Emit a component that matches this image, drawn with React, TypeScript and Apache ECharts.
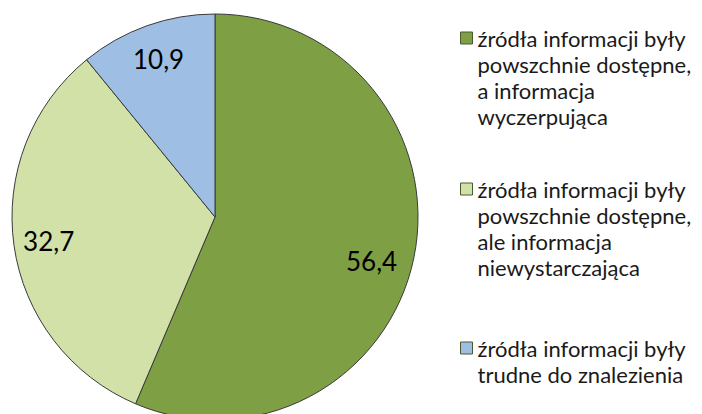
import React, { useEffect, useRef } from "react";
import * as echarts from "echarts";

const categories = [
  "źródła informacji były\npowszchnie dostępne,\na informacja\nwyczerpująca",
  "źródła informacji były\npowszchnie dostępne,\nale informacja\nniewystarczająca",
  "źródła informacji były\ntrudne do znalezienia",
];
const values = [56.4, 32.7, 10.9];
const colors = ["#7f9f45", "#d1e1a8", "#9ebee3"];
const legendLineCenters = [38, 189, 348];

const FONT = "Lato";
const LH = 26.3;

export default function App() {
  const ref = useRef<HTMLDivElement>(null);
  useEffect(() => {
    if (!ref.current) return;
    const chart = echarts.init(ref.current, null, { renderer: "svg" });
    const data = categories.map((name, i) => ({
      name,
      value: values[i],
      itemStyle: { color: colors[i] },
    }));
    const legends = categories.map((name, i) => {
      const n = name.split("\n").length;
      return {
        data: [name],
        orient: "vertical",
        left: 460,
        top: legendLineCenters[i] - ((2 * n - 1) * LH) / 2,
        padding: 0,
        icon: "rect",
        itemWidth: 12,
        itemHeight: 12,
        selectedMode: false,
        formatter: (nm: string) => "\n".repeat(n - 1) + nm,
        itemStyle: { borderColor: "#4a5a30", borderWidth: 1 },
        textStyle: { fontFamily: FONT, fontSize: 22, lineHeight: LH, color: "#1a1a1a" },
      };
    });
    chart.setOption({
      animation: false,
      legend: legends,
      series: [
        {
          type: "pie",
          center: [215, 217],
          radius: [0, 203],
          startAngle: 90,
          clockwise: true,
          data,
          label: { show: false },
          labelLine: { show: false },
          itemStyle: { borderColor: "#3a3a3a", borderWidth: 1 },
          emphasis: { disabled: true },
        },
        {
          type: "pie",
          center: [215, 217],
          radius: [127, 203],
          startAngle: 90,
          clockwise: true,
          silent: true,
          data: categories.map((name, i) => ({
            name,
            value: values[i],
            label: i === 0 ? { padding: [0, 16, 0, 0], lineHeight: 20 } : {},
          })),
          itemStyle: { color: "transparent", borderWidth: 0 },
          label: {
            show: true,
            position: "inside",
            fontFamily: FONT,
            fontSize: 26,
            color: "#000",
            formatter: (p: any) =>
              (p.dataIndex === 0 ? "\n" : "") + String(p.value).replace(".", ","),
          },
          labelLine: { show: false },
          emphasis: { disabled: true },
          tooltip: { show: false },
        },
      ],
    });
    return () => chart.dispose();
  }, []);
  return (
    <div
      ref={ref}
      style={{ position: "absolute", left: 0, top: 0, width: 702, height: 414, background: "#fff" }}
    />
  );
}
